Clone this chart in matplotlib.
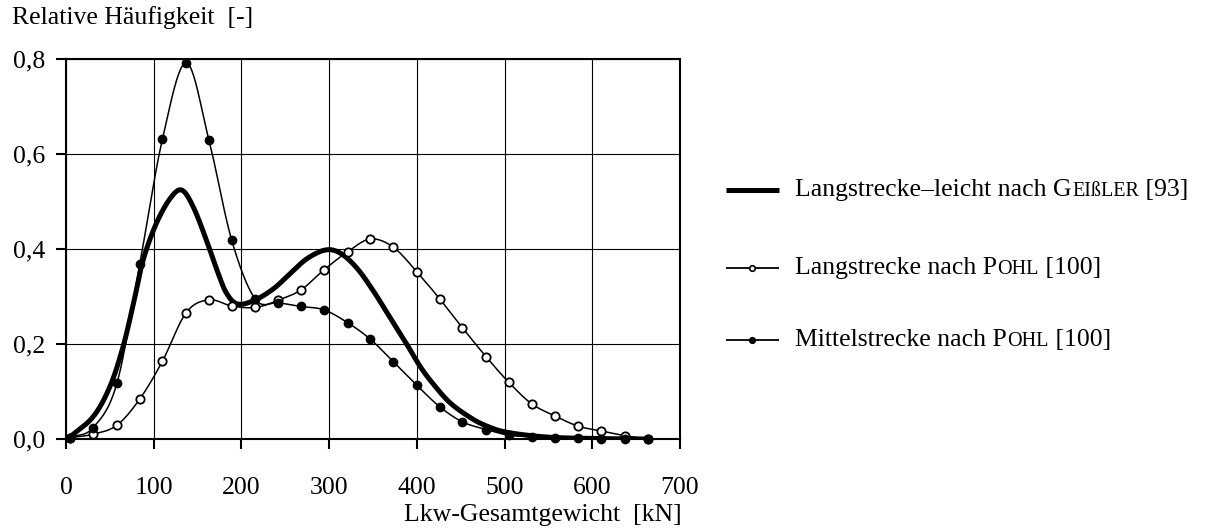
import matplotlib
matplotlib.use("Agg")

import matplotlib.pyplot as plt
import numpy as np
from matplotlib.lines import Line2D
from matplotlib.offsetbox import AnchoredOffsetbox, DrawingArea, HPacker, TextArea

# Klassenmitten der Messungen nach POHL [kN]
gewicht_pohl = [5, 31, 58, 84, 110, 137, 163, 189, 216, 242, 268, 294, 321,
                347, 373, 400, 426, 452, 479, 505, 531, 558, 584, 610, 637, 663]
langstrecke_pohl = [0.003, 0.010, 0.029, 0.084, 0.164, 0.266, 0.293, 0.280, 0.277,
                    0.292, 0.314, 0.356, 0.394, 0.421, 0.404, 0.352, 0.295, 0.234,
                    0.173, 0.119, 0.074, 0.048, 0.027, 0.017, 0.007, 0.000]
mittelstrecke_pohl = [0.003, 0.024, 0.117, 0.368, 0.632, 0.792, 0.629, 0.418, 0.294,
                      0.287, 0.279, 0.272, 0.245, 0.210, 0.163, 0.113, 0.068, 0.036,
                      0.020, 0.008, 0.005, 0.003, 0.002, 0.001, 0.001, 0.000]

# Verteilung nach GEISSLER (glatte Kurve)
gewicht_geissler = [5, 31, 50, 65, 77, 88, 103, 119, 132, 145, 160, 172, 183, 196,
                    216, 237, 256, 275, 296, 313, 332, 351, 370, 389, 404, 419,
                    438, 461, 480, 503, 549, 606, 660]
langstrecke_geissler = [0.005, 0.047, 0.110, 0.194, 0.286, 0.377, 0.454, 0.507, 0.524,
                        0.489, 0.419, 0.356, 0.307, 0.284, 0.293, 0.317, 0.349, 0.380,
                        0.398, 0.391, 0.359, 0.310, 0.254, 0.198, 0.152, 0.115,
                        0.076, 0.045, 0.027, 0.014, 0.004, 0.001, 0.000]

x_ticks = [0, 100, 200, 300, 400, 500, 600, 700]
y_ticks = [0.0, 0.2, 0.4, 0.6, 0.8]

FS = 18.5
FS_KAPITAELCHEN = 14.5

plt.rcParams["font.family"] = ["Liberation Serif", "DejaVu Serif"]
plt.rcParams["font.size"] = FS


def smooth(x, y, steps=24):
    """Catmull-Rom-Kurve durch die Stuetzpunkte (wie geglaettete Linie)."""
    p = np.column_stack([x, y]).astype(float)
    p = np.vstack([2 * p[0] - p[1], p, 2 * p[-1] - p[-2]])
    t = np.linspace(0, 1, steps, endpoint=False)[:, None]
    out = []
    for i in range(1, len(p) - 2):
        p0, p1, p2, p3 = p[i - 1], p[i], p[i + 1], p[i + 2]
        seg = 0.5 * ((2 * p1) + (-p0 + p2) * t
                     + (2 * p0 - 5 * p1 + 4 * p2 - p3) * t ** 2
                     + (-p0 + 3 * p1 - 3 * p2 + p3) * t ** 3)
        out.append(seg)
    out.append(p[-2][None, :])
    out = np.vstack(out)
    return out[:, 0], out[:, 1]


def legend_row(fig, y_px, linewidth, marker_face, parts):
    da = DrawingArea(38, 10, 0, 0)
    da.add_artist(Line2D([0, 38], [5, 5], color="black", linewidth=linewidth,
                         solid_capstyle="butt"))
    if marker_face is not None:
        da.add_artist(Line2D([19], [5], linestyle="none", marker="o",
                             markersize=4, markeredgewidth=1.2,
                             markeredgecolor="black", markerfacecolor=marker_face))
    texts = [TextArea(s, textprops=dict(fontsize=size, color="black"))
             for s, size in parts]
    label = HPacker(children=texts, align="baseline", pad=0, sep=0)
    row = HPacker(children=[da, label], align="center", pad=0, sep=12)
    box = AnchoredOffsetbox(loc="center left", child=row, pad=0, borderpad=0,
                            frameon=False,
                            bbox_to_anchor=(726 / 1209, 1 - y_px / 530),
                            bbox_transform=fig.transFigure)
    fig.add_artist(box)


fig = plt.figure(figsize=(12.09, 5.30), dpi=100)
ax = fig.add_axes([66 / 1209, 1 - 439 / 530, 614 / 1209, 380 / 530])

xs, ys = smooth(gewicht_geissler, langstrecke_geissler)
ax.plot(xs, ys, color="black", linewidth=3.6, solid_capstyle="round", zorder=3)

xs, ys = smooth(gewicht_pohl, langstrecke_pohl)
ax.plot(xs, ys, color="black", linewidth=1.1, zorder=4)
ax.plot(gewicht_pohl, langstrecke_pohl, linestyle="none", marker="o",
        markersize=6, markerfacecolor="white", markeredgecolor="black",
        markeredgewidth=1.3, zorder=5, clip_on=False)

xs, ys = smooth(gewicht_pohl, mittelstrecke_pohl)
ax.plot(xs, ys, color="black", linewidth=1.1, zorder=4)
ax.plot(gewicht_pohl, mittelstrecke_pohl, linestyle="none", marker="o",
        markersize=6, markerfacecolor="black", markeredgecolor="black",
        zorder=6, clip_on=False)

ax.set_xlim(0, 700)
ax.set_ylim(0, 0.8)
ax.set_xticks(x_ticks)
ax.set_yticks(y_ticks)
ax.set_xticklabels([str(v) for v in x_ticks])
ax.set_yticklabels([f"{v:.1f}".replace(".", ",") for v in y_ticks])
ax.grid(True, color="black", linewidth=0.8)
ax.set_axisbelow(True)
ax.tick_params(axis="both", direction="out", length=7, width=1.5, colors="black")
ax.tick_params(axis="x", pad=20)
ax.tick_params(axis="y", pad=8)
for spine in ax.spines.values():
    spine.set_linewidth(1.5)

fig.text(12 / 1209, 1 - 18 / 530, "Relative Häufigkeit  [-]", ha="left", va="center")
fig.text(682 / 1209, 1 - 515 / 530, "Lkw-Gesamtgewicht  [kN]", ha="right", va="center")

legend_row(fig, 190, 3.6, None,
           [("Langstrecke–leicht nach G", FS), ("EIßLER", FS_KAPITAELCHEN), (" [93]", FS)])
legend_row(fig, 268, 1.3, "white",
           [("Langstrecke nach P", FS), ("OHL", FS_KAPITAELCHEN), (" [100]", FS)])
legend_row(fig, 340, 1.3, "black",
           [("Mittelstrecke nach P", FS), ("OHL", FS_KAPITAELCHEN), (" [100]", FS)])

fig.savefig("out.png", dpi=100)
plt.close(fig)
